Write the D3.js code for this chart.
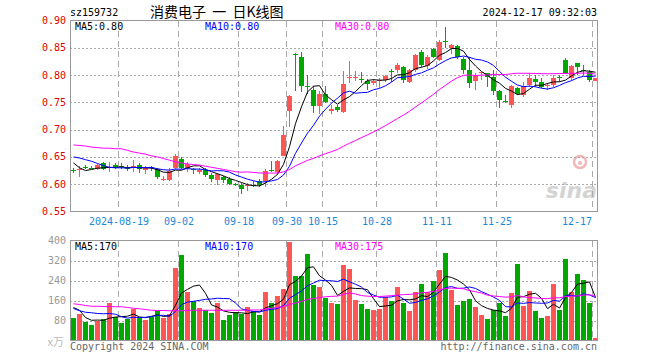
<!DOCTYPE html>
<html>
<head>
<meta charset="utf-8">
<script src="https://cdn.jsdelivr.net/npm/d3@7"></script>
<style>
  body { margin: 0; background: #fff; }
  svg text { font-family: "DejaVu Sans Mono", "Liberation Mono", monospace; font-size: 10px; white-space: pre; }
</style>
</head>
<body>
<div id="chart"></div>
<script>
// daily candles, 2024-08-07 .. 2024-12-17 (88 trading days)
const openP = [0.626, 0.626, 0.632, 0.630, 0.628, 0.639, 0.630, 0.636, 0.634, 0.632,
  0.630, 0.636, 0.626, 0.631, 0.628, 0.609, 0.608, 0.629, 0.647, 0.629,
  0.628, 0.622, 0.626, 0.616, 0.607, 0.613, 0.609, 0.600, 0.599, 0.597,
  0.599, 0.605, 0.605, 0.626, 0.623, 0.652, 0.735, 0.838, 0.834, 0.780,
  0.772, 0.743, 0.766, 0.735, 0.742, 0.732, 0.794, 0.795, 0.793, 0.790,
  0.786, 0.790, 0.791, 0.807, 0.810, 0.815, 0.787, 0.809, 0.842, 0.816,
  0.848, 0.828, 0.862, 0.849, 0.854, 0.830, 0.809, 0.790, 0.803, 0.803,
  0.797, 0.770, 0.753, 0.745, 0.776, 0.763, 0.781, 0.792, 0.788, 0.780,
  0.782, 0.797, 0.827, 0.794, 0.823, 0.810, 0.806, 0.790];
const highP = [0.630, 0.634, 0.636, 0.634, 0.637, 0.640, 0.640, 0.638, 0.639, 0.636,
  0.645, 0.638, 0.633, 0.633, 0.630, 0.615, 0.630, 0.656, 0.650, 0.640,
  0.630, 0.630, 0.630, 0.621, 0.621, 0.615, 0.614, 0.603, 0.602, 0.602,
  0.605, 0.609, 0.627, 0.642, 0.645, 0.706, 0.763, 0.840, 0.843, 0.800,
  0.780, 0.770, 0.780, 0.745, 0.746, 0.807, 0.826, 0.807, 0.806, 0.792,
  0.793, 0.794, 0.800, 0.812, 0.823, 0.816, 0.812, 0.838, 0.846, 0.836,
  0.850, 0.864, 0.889, 0.857, 0.856, 0.834, 0.834, 0.803, 0.806, 0.804,
  0.809, 0.773, 0.763, 0.782, 0.779, 0.788, 0.803, 0.800, 0.794, 0.785,
  0.800, 0.800, 0.832, 0.818, 0.823, 0.818, 0.809, 0.795];
const lowP = [0.621, 0.613, 0.628, 0.627, 0.626, 0.626, 0.622, 0.628, 0.627, 0.624,
  0.622, 0.621, 0.619, 0.624, 0.610, 0.605, 0.605, 0.627, 0.627, 0.623,
  0.618, 0.618, 0.613, 0.604, 0.598, 0.602, 0.599, 0.596, 0.582, 0.588,
  0.594, 0.594, 0.594, 0.623, 0.617, 0.651, 0.704, 0.771, 0.769, 0.766,
  0.731, 0.728, 0.749, 0.728, 0.732, 0.730, 0.786, 0.789, 0.785, 0.773,
  0.782, 0.776, 0.788, 0.788, 0.804, 0.786, 0.785, 0.806, 0.815, 0.812,
  0.832, 0.826, 0.849, 0.838, 0.830, 0.802, 0.776, 0.773, 0.791, 0.779,
  0.763, 0.739, 0.748, 0.739, 0.763, 0.760, 0.779, 0.779, 0.776, 0.773,
  0.779, 0.788, 0.802, 0.791, 0.800, 0.800, 0.788, 0.789];
const closeP = [0.624, 0.628, 0.631, 0.628, 0.636, 0.628, 0.631, 0.631, 0.633, 0.627,
  0.633, 0.627, 0.630, 0.630, 0.613, 0.610, 0.625, 0.651, 0.629, 0.637,
  0.626, 0.626, 0.616, 0.610, 0.618, 0.607, 0.601, 0.599, 0.591, 0.598,
  0.598, 0.599, 0.625, 0.625, 0.643, 0.690, 0.761, 0.836, 0.780, 0.778,
  0.743, 0.766, 0.751, 0.737, 0.736, 0.783, 0.796, 0.797, 0.791, 0.784,
  0.790, 0.791, 0.798, 0.805, 0.818, 0.791, 0.809, 0.836, 0.818, 0.833,
  0.834, 0.861, 0.860, 0.855, 0.834, 0.809, 0.785, 0.800, 0.805, 0.797,
  0.770, 0.754, 0.752, 0.780, 0.765, 0.780, 0.794, 0.788, 0.779, 0.782,
  0.794, 0.796, 0.803, 0.817, 0.815, 0.809, 0.791, 0.794];
// volume in 万
const volume = [91, 105, 73, 61, 79, 85, 149, 95, 69, 88,
  127, 92, 81, 95, 120, 92, 108, 289, 341, 193,
  157, 129, 124, 109, 149, 81, 101, 115, 108, 133,
  117, 101, 193, 149, 177, 205, 393, 257, 257, 345,
  221, 215, 172, 149, 145, 301, 285, 161, 145, 125,
  121, 125, 175, 159, 213, 149, 117, 193, 225, 193,
  237, 281, 349, 201, 141, 157, 165, 133, 101, 85,
  124, 149, 97, 189, 305, 137, 197, 117, 89, 97,
  225, 121, 325, 193, 265, 241, 149, 11];

const tickIndex = [8, 18, 28, 36, 42, 51, 61, 71, 87];
const tickLabels = ["2024-08-19", "09-02", "09-18", "09-30", "10-15", "10-28", "11-11", "11-25", "12-17"];
const priceTicks = [0.55, 0.60, 0.65, 0.70, 0.75, 0.80, 0.85, 0.90];
const volTicks = [80, 160, 240, 320, 400];

// first points of each average need days before the window
const ma5Head = [0.639, 0.630, 0.625, 0.627];
const ma10Head = [0.650, 0.648, 0.645, 0.642, 0.638, 0.634, 0.631, 0.630, 0.630];
const ma30Head = [0.672, 0.671, 0.670, 0.668, 0.667, 0.666, 0.666, 0.665, 0.665, 0.662,
  0.659, 0.657, 0.655, 0.652, 0.650, 0.647, 0.644, 0.641, 0.639, 0.637,
  0.636, 0.635, 0.633, 0.631, 0.629, 0.627, 0.625, 0.623, 0.622];
const volMa5Head = [132, 121, 92, 81];
const volMa10Head = [128, 119, 113, 111, 108, 107, 108, 105, 95];
const volMa30Head = [147, 144, 140, 137, 137, 136, 136, 135, 135, 132,
  129, 127, 124, 121, 120, 120, 119, 119, 119, 120,
  121, 121, 121, 121, 121, 121, 121, 121, 121];

const legendPrice = ["MA5:0.80", "MA10:0.80", "MA30:0.80"];
const legendVol = ["MA5:170", "MA10:170", "MA30:175"];
const maColors = ["#000000", "#0000ff", "#ff00ff"];

const width = 660, height = 360;
const left = 70, right = 597;
const RED = "#ff5555", GREEN = "#00a800";

const movingAvg = (vals, n, head) =>
  vals.map((v, i) => i < n - 1 ? head[i] : d3.mean(vals.slice(i - n + 1, i + 1)));

const svg = d3.select("#chart")
  .append("svg")
  .attr("width", width)
  .attr("height", height);

const x = d3.scaleBand()
  .domain(d3.range(closeP.length))
  .range([71, 598])
  .paddingInner(1 / 6);
const mid = i => x(i) + 2.5;

const yP = d3.scaleLinear().domain([0.55, 0.90]).range([211.5, 20.5]);
const yV = d3.scaleLinear().domain([0, 400]).range([340.5, 240.5]);

// header
svg.append("text").attr("x", 70).attr("y", 16).text("sz159732");
svg.append("text").attr("x", 150).attr("y", 17)
  .style("font-family", "'Noto Sans CJK SC', sans-serif").style("font-size", "14px")
  .text("消费电子  一  日K线图");
svg.append("text").attr("x", right).attr("y", 16).attr("text-anchor", "end")
  .text("2024-12-17 09:32:03");

// sina watermark
const logo = svg.append("g");
logo.append("circle").attr("cx", 580).attr("cy", 162).attr("r", 6)
  .attr("fill", "none").attr("stroke", "#f2b8b8").attr("stroke-width", 2.5);
logo.append("circle").attr("cx", 580).attr("cy", 163).attr("r", 2).attr("fill", "#f2b8b8");
logo.append("text").attr("x", 597).attr("y", 198).attr("text-anchor", "end")
  .style("font-family", "'DejaVu Sans', sans-serif").style("font-size", "22px")
  .style("font-style", "italic").style("font-weight", "bold")
  .attr("fill", "#d4d4d4").text("sina");

// grids
const grid = svg.append("g").attr("shape-rendering", "crispEdges");
grid.selectAll(".hp").data(priceTicks.slice(1, -1)).enter().append("line")
  .attr("x1", left).attr("x2", right)
  .attr("y1", d => Math.round(yP(d)) + 0.5).attr("y2", d => Math.round(yP(d)) + 0.5)
  .attr("stroke", "#aaa").attr("stroke-dasharray", "2,2");
grid.selectAll(".hv").data(volTicks.slice(0, -1)).enter().append("line")
  .attr("x1", left).attr("x2", right)
  .attr("y1", d => Math.round(yV(d)) + 0.5).attr("y2", d => Math.round(yV(d)) + 0.5)
  .attr("stroke", "#aaa").attr("stroke-dasharray", "2,2");
[[20.5, 211.5], [240.5, 340.5]].forEach(([y1, y2]) => {
  grid.selectAll(null).data(tickIndex).enter().append("line")
    .attr("x1", i => x(i) - 0.5).attr("x2", i => x(i) - 0.5)
    .attr("y1", y1).attr("y2", y2)
    .attr("stroke", "#aaa").attr("stroke-dasharray", "6,4");
});

// axis labels
svg.selectAll(".pl").data(priceTicks).enter().append("text")
  .attr("x", 66).attr("y", d => yP(d)).attr("dy", "0.35em")
  .attr("text-anchor", "end").attr("fill", "#e00000")
  .text(d => d.toFixed(2));
svg.selectAll(".vl").data(volTicks).enter().append("text")
  .attr("x", 66).attr("y", d => yV(d)).attr("dy", "0.35em")
  .attr("text-anchor", "end").attr("fill", "#999")
  .text(d => d);
svg.append("text").attr("x", 64).attr("y", 346).attr("text-anchor", "end")
  .attr("fill", "#bbb").style("font-family", "'Noto Sans CJK SC', sans-serif")
  .style("font-size", "11px").text("x万");
// date labels centred on their line, but kept inside the plot
svg.selectAll(".dl").data(tickIndex).enter().append("text")
  .attr("x", (i, k) => Math.min(x(i), right - 5 - tickLabels[k].length * 3))
  .attr("y", 221).attr("dy", "0.35em")
  .attr("text-anchor", "middle").attr("fill", "#1a88d8")
  .text((d, k) => tickLabels[k]);

// candles
const candles = svg.append("g").attr("shape-rendering", "crispEdges");
const idx = d3.range(closeP.length);
const colorOf = i => closeP[i] >= openP[i] ? RED : GREEN;
candles.selectAll(".wick").data(idx).enter().append("line")
  .attr("x1", i => mid(i)).attr("x2", i => mid(i))
  .attr("y1", i => yP(highP[i])).attr("y2", i => yP(lowP[i]))
  .attr("stroke", colorOf);
candles.selectAll(".body").data(idx).enter().append("rect")
  .attr("x", i => x(i)).attr("width", x.bandwidth())
  .attr("y", i => yP(Math.max(openP[i], closeP[i])))
  .attr("height", i => Math.max(1, Math.abs(yP(openP[i]) - yP(closeP[i]))))
  .attr("fill", colorOf);

// volume bars
candles.selectAll(".vol").data(idx).enter().append("rect")
  .attr("x", i => x(i)).attr("width", x.bandwidth())
  .attr("y", i => yV(volume[i]))
  .attr("height", i => yV(0) - yV(volume[i]))
  .attr("fill", colorOf);

// moving averages
const priceMA = [movingAvg(closeP, 5, ma5Head), movingAvg(closeP, 10, ma10Head), movingAvg(closeP, 30, ma30Head)];
const volMA = [movingAvg(volume, 5, volMa5Head), movingAvg(volume, 10, volMa10Head), movingAvg(volume, 30, volMa30Head)];
const linePrice = d3.line().x((d, i) => mid(i)).y(d => yP(d));
const lineVol = d3.line().x((d, i) => mid(i)).y(d => yV(d));
priceMA.forEach((s, k) => {
  svg.append("path").attr("d", linePrice(s)).attr("fill", "none")
    .attr("stroke", maColors[k]).attr("stroke-width", 1);
});
volMA.forEach((s, k) => {
  svg.append("path").attr("d", lineVol(s)).attr("fill", "none")
    .attr("stroke", maColors[k]).attr("stroke-width", 1);
});

// frames
svg.append("rect").attr("x", 70.5).attr("y", 20.5).attr("width", 527).attr("height", 191)
  .attr("fill", "none").attr("stroke", "#999");
svg.append("rect").attr("x", 70.5).attr("y", 240.5).attr("width", 527).attr("height", 100)
  .attr("fill", "none").attr("stroke", "#999");

// legends
[75, 205, 335].forEach((lx, k) => {
  svg.append("text").attr("x", lx).attr("y", 30).attr("fill", maColors[k]).text(legendPrice[k]);
  svg.append("text").attr("x", lx).attr("y", 250).attr("fill", maColors[k]).text(legendVol[k]);
});

// footer
svg.append("text").attr("x", 70).attr("y", 350).attr("fill", "#666").text("Copyright 2024 SINA.COM");
svg.append("text").attr("x", right).attr("y", 350).attr("text-anchor", "end")
  .attr("fill", "#666").text("http://finance.sina.com.cn");
</script>
</body>
</html>
